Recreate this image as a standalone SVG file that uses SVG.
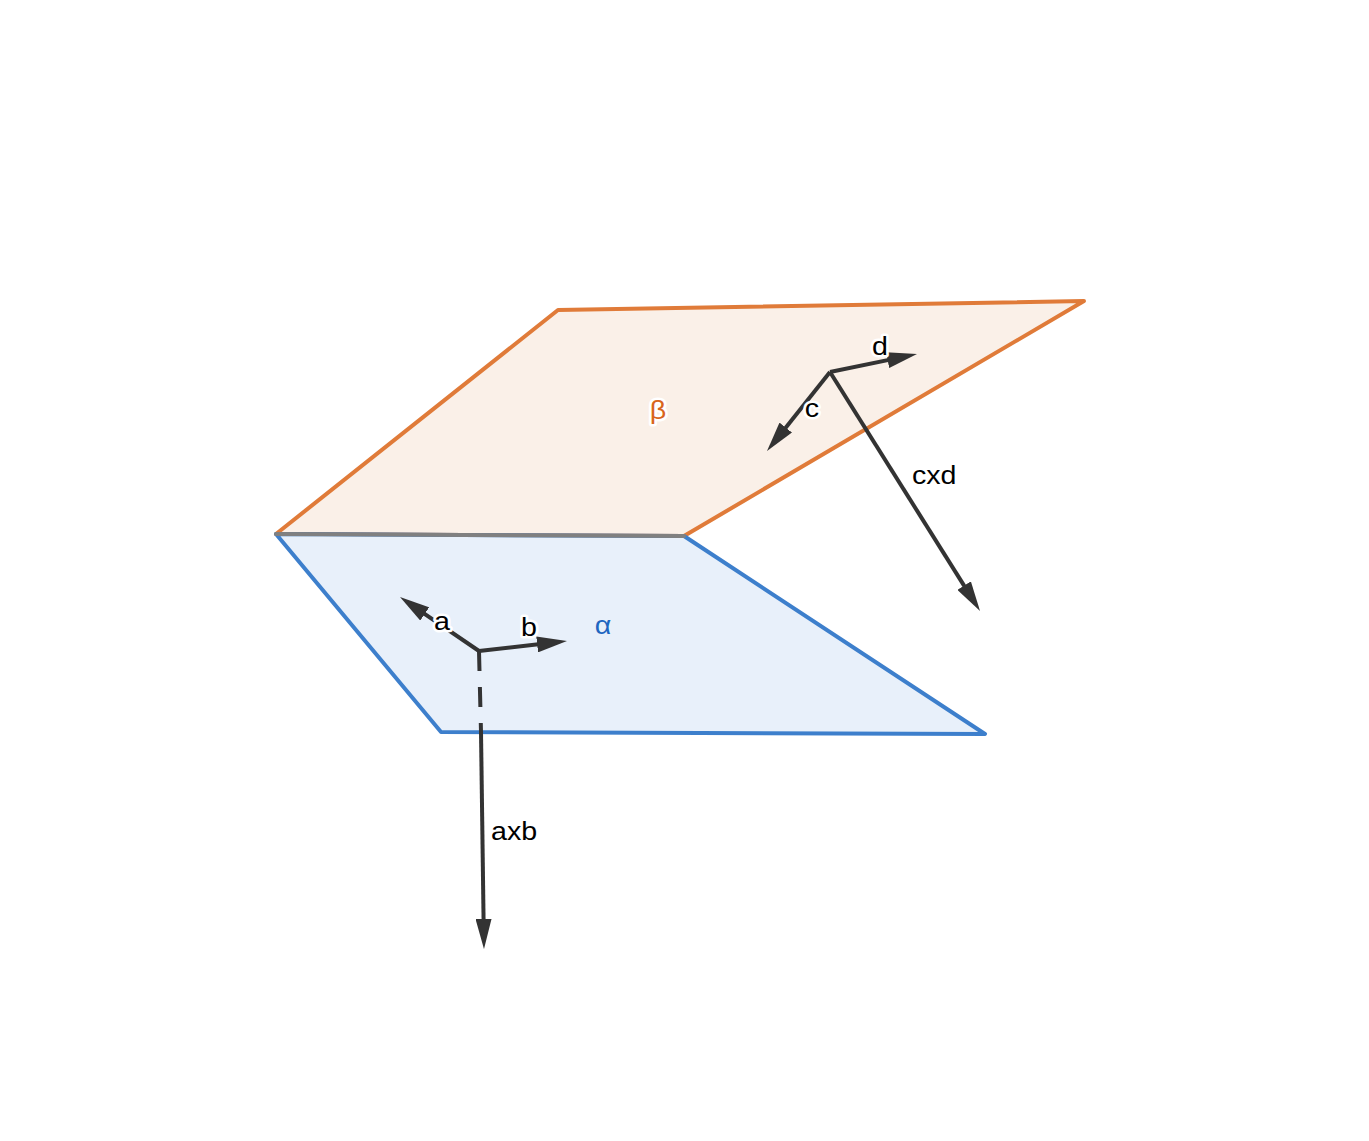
<svg xmlns="http://www.w3.org/2000/svg" width="1369" height="1141" viewBox="0 0 1369 1141">
  <style>
    .lbl { font-family: "Liberation Sans", Arial, sans-serif; font-size: 26px; fill: #000000; }
    .halo { paint-order: stroke; stroke: #ffffff; stroke-width: 5px; stroke-linejoin: round; }
    .vec { stroke: #333333; stroke-width: 4; fill: none; }
    .plane { stroke-width: 4; stroke-linejoin: round; }
  </style>
  <defs>
    <marker id="head" markerUnits="userSpaceOnUse" markerWidth="30" markerHeight="16" refX="10" refY="8" orient="auto" viewBox="0 0 30 16">
      <path d="M0,0 L30,8 L0,16 z" fill="#333333"/>
    </marker>
  </defs>
  <rect x="0" y="0" width="1369" height="1141" fill="#ffffff"/>

  <g id="plane-beta">
    <polygon class="plane" points="276,534 558,310 1084,301 684,536" fill="#FAF0E8" stroke="#E07B39"/>
    <text class="lbl halo" transform="translate(658,419) scale(1.1,1)" text-anchor="middle" style="fill:#D9651C">β</text>
  </g>
  <g id="plane-alpha">
    <polygon class="plane" points="276,534 684,536 985,734 441,732" fill="#E8F0FA" stroke="#3D7FCC"/>
    <text class="lbl" transform="translate(603,634) scale(1.1,1)" text-anchor="middle" style="fill:#1F66C0">α</text>
  </g>
  <g id="fold-line">
    <line x1="276" y1="534" x2="684" y2="536" stroke="#808080" stroke-width="4" stroke-linecap="round"/>
  </g>

  <g id="connectors">
    <line class="vec" x1="479" y1="651" x2="416.5" y2="608.3" marker-end="url(#head)"/>
    <line class="vec" x1="479" y1="651" x2="547.1" y2="643.3" marker-end="url(#head)"/>
    <line class="vec" x1="479" y1="651" x2="481" y2="732" stroke-dasharray="20 16"/>
    <line class="vec" x1="481" y1="732" x2="483.7" y2="929" marker-end="url(#head)"/>
    <line class="vec" x1="830" y1="372" x2="779.5" y2="435.4" marker-end="url(#head)"/>
    <line class="vec" x1="830" y1="372" x2="897.4" y2="358.1" marker-end="url(#head)"/>
    <line class="vec" x1="830" y1="372" x2="969.4" y2="594.1" marker-end="url(#head)"/>
  </g>

  <g id="label-a"><text class="lbl halo" transform="translate(442,630) scale(1.1,1)" text-anchor="middle">a</text></g>
  <g id="label-b"><text class="lbl halo" transform="translate(529,636) scale(1.1,1)" text-anchor="middle">b</text></g>
  <g id="label-c"><text class="lbl halo" transform="translate(812,417) scale(1.1,1)" text-anchor="middle">c</text></g>
  <g id="label-d"><text class="lbl halo" transform="translate(880,355) scale(1.1,1)" text-anchor="middle">d</text></g>
  <g id="label-cxd"><text class="lbl" transform="translate(912,484) scale(1.1,1)">cxd</text></g>
  <g id="label-axb"><text class="lbl" transform="translate(491,840) scale(1.1,1)">axb</text></g>
</svg>
